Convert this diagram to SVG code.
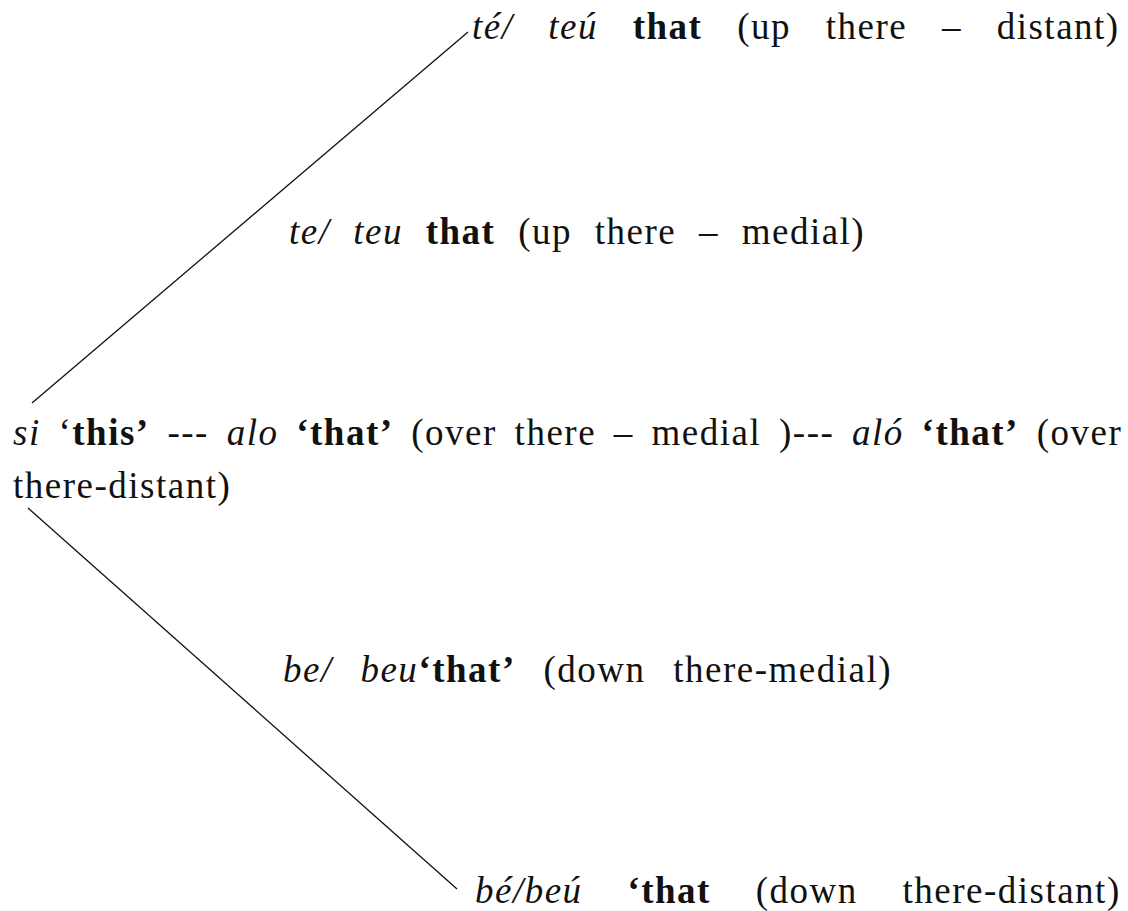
<svg xmlns="http://www.w3.org/2000/svg" width="1128" height="911" viewBox="0 0 1128 911">
<style>
.t{font-family:"Liberation Serif","Times New Roman",serif;font-size:37px;letter-spacing:1.5px;fill:#111;}
.i{font-style:italic;}
.b{font-weight:bold;}
.c{stroke:#111;stroke-width:1.3;fill:none;}
</style>
<rect width="1128" height="911" fill="#fff"/>
<g id="connectors">
<line class="c" x1="32" y1="403" x2="468" y2="32"/>
<line class="c" x1="28" y1="508" x2="457" y2="889"/>
</g>
<g id="node-te-distant">
<text class="t" x="472" y="39" word-spacing="24" xml:space="preserve"><tspan class="i">té/ teú</tspan> <tspan class="b">that</tspan> (up there – distant)</text>
</g>
<g id="node-te-medial">
<text class="t" x="289" y="244" word-spacing="12" xml:space="preserve"><tspan class="i">te/ teu</tspan> <tspan class="b">that</tspan> (up there – medial)</text>
</g>
<g id="node-si">
<text class="t" x="13" y="445" word-spacing="7" xml:space="preserve"><tspan class="i">si</tspan> ‘<tspan class="b">this’</tspan> --- <tspan class="i">alo</tspan> <tspan class="b">‘that’</tspan> (over there – medial )--- <tspan class="i">aló</tspan> <tspan class="b">‘that’</tspan> (over</text>
<text class="t" x="13" y="498">there-distant)</text>
</g>
<g id="node-be-medial">
<text class="t" x="283" y="682" word-spacing="17" xml:space="preserve"><tspan class="i">be/ beu</tspan><tspan class="b">‘that’</tspan> (down there-medial)</text>
</g>
<g id="node-be-distant">
<text class="t" x="475" y="903" word-spacing="34" xml:space="preserve"><tspan class="i">bé/beú</tspan> <tspan class="b">‘that</tspan> (down there-distant)</text>
</g>
</svg>
